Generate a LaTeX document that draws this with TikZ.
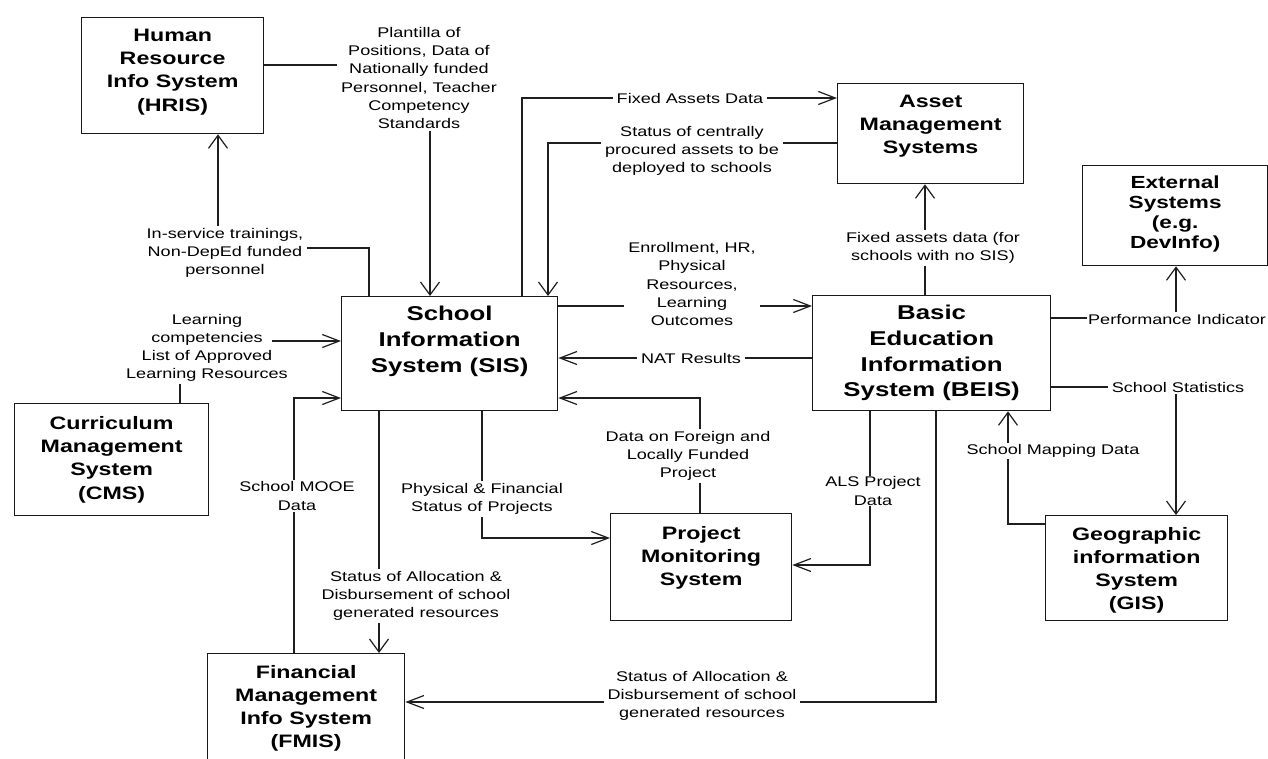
\documentclass[tikz,border=0pt]{standalone}
\usepackage{fontspec}
\setmainfont{Liberation Sans}[FakeStretch=1.29]
\usetikzlibrary{arrows.meta}
\newcommand\bxt[4]{\vbox to #2{\hsize=#1\relax\parindent=0pt\centering\rule{0pt}{#3}\ignorespaces#4\par\vfil}}
\begin{document}
\begin{tikzpicture}[x=1pt,y=-1pt,
  sysbox/.style={draw=black!90,line width=1.3pt,inner sep=0pt,anchor=north west,
     font=\bfseries\fontsize{18}{23.3}\selectfont},
  bigbox/.style={sysbox,font=\bfseries\fontsize{20}{26}\selectfont},
  lab/.style={fill=white,inner xsep=4pt,inner ysep=2pt,align=center,
     font=\fontsize{14}{18.2}\selectfont},
  conn/.style={draw=black!88,line width=1.2pt},
  av/.style={conn,-{Straight Barb[length=13pt,width=19pt]}},
  ah/.style={conn,-{Straight Barb[length=17pt,width=13pt]}}]
\fill[white] (0,0) rectangle (1268,758);
\useasboundingbox (0,0) rectangle (1268,758);
% boxes
\node[sysbox] (hris) at (81,17) {\bxt{182pt}{116pt}{23.5pt}{Human\\Resource\\Info System\\(HRIS)}};
\node[sysbox] (asset) at (837,83) {\bxt{186pt}{100pt}{23.5pt}{Asset\\Management\\Systems}};
\node[sysbox,font=\bfseries\fontsize{17.5}{20}\selectfont] (ext) at (1082,165) {\bxt{185pt}{100pt}{23.3pt}{External\\Systems\\(e.g.\\DevInfo)}};
\node[bigbox] (sis) at (341,296) {\bxt{216pt}{114pt}{24.2pt}{School\\Information\\System (SIS)}};
\node[bigbox,font=\bfseries\fontsize{20}{25.7}\selectfont] (beis) at (812,295) {\bxt{238pt}{115pt}{24.2pt}{Basic\\Education\\Information\\System (BEIS)}};
\node[sysbox,font=\bfseries\fontsize{18}{23}\selectfont] (pms) at (610,513) {\bxt{181pt}{107pt}{25.5pt}{Project\\Monitoring\\System}};
\node[sysbox,font=\bfseries\fontsize{18}{23}\selectfont] (gis) at (1045,515) {\bxt{182pt}{105pt}{24.5pt}{Geographic\\information\\System\\(GIS)}};
\node[sysbox] (cms) at (14,403) {\bxt{194pt}{112pt}{25.5pt}{Curriculum\\Management\\System\\(CMS)}};
\node[sysbox,font=\bfseries\fontsize{18}{23}\selectfont] (fmis) at (207,653) {\bxt{197pt}{115pt}{24.5pt}{Financial\\Management\\Info System\\(FMIS)}};
% connectors
\draw[av] (hris.east |- 0,65) -| (sis.north -| 430,0);
\draw[av] (sis.north -| 369,0) -- ++(0,-48) -| (hris.south -| 218,0);
\draw[ah] (sis.north -| 522,0) |- (asset.west |- 0,98);
\draw[av] (asset.west |- 0,143) -| (sis.north -| 548,0);
\draw[ah] (sis.east |- 0,306) -- (beis.west |- 0,306);
\draw[ah] (beis.west |- 0,358) -- (sis.east |- 0,358);
\draw[ah] (pms.north -| 700,0) |- (sis.east |- 0,398);
\draw[ah] (sis.south -| 482,0) |- (pms.west |- 0,538);
\draw[ah] (beis.south -| 870,0) |- (pms.east |- 0,565);
\draw[ah] (beis.south -| 936,0) |- (fmis.east |- 0,702);
\draw[av] (sis.south -| 379,0) -- (fmis.north -| 379,0);
\draw[ah] (fmis.north -| 294,0) |- (sis.west |- 0,398);
\draw[av] (beis.north -| 925,0) -- (asset.south -| 925,0);
\draw[av] (beis.east |- 0,318) -| (ext.south -| 1176,0);
\draw[av] (beis.east |- 0,387) -| (gis.north -| 1176,0);
\draw[av] (gis.west |- 0,524) -| (beis.south -| 1008,0);
% labels
\node[lab] (l1) at (419,78) {Plantilla of\\Positions, Data of\\Nationally funded\\Personnel, Teacher\\Competency\\Standards};
\node[lab] (l2) at (225,253) {In-service trainings,\\Non-DepEd funded\\personnel};
\node[lab] (l3) at (690,98) {Fixed Assets Data};
\node[lab] (l4) at (692,151) {Status of centrally\\procured assets to be\\deployed to schools};
\node[lab] (l5) at (692,284) {Enrollment, HR,\\Physical\\Resources,\\Learning\\Outcomes};
\node[lab] (l6) at (691,358) {NAT Results};
\node[lab] (l7) at (688,456) {Data on Foreign and\\Locally Funded\\Project};
\node[lab] (l8) at (482,499) {Physical \& Financial\\Status of Projects};
\node[lab,inner sep=1pt] (l9) at (873,491) {ALS Project\\Data};
\node[lab] (l10) at (702,696) {Status of Allocation \&\\Disbursement of school\\generated resources};
\node[lab] (l11) at (416,596) {Status of Allocation \&\\Disbursement of school\\generated resources};
\node[lab] (l12) at (297,496) {School MOOE\\Data};
\node[lab,fill=none] (l13) at (207,348) {Learning\\competencies\\List of Approved\\Learning Resources};
\node[lab] (l14) at (933,248) {Fixed assets data (for\\schools with no SIS)};
\node[lab,inner xsep=1pt] (l15) at (1177,319) {Performance Indicator};
\node[lab] (l16) at (1178,387) {School Statistics};
\node[lab,inner sep=1pt] (l17) at (1053,451) {School Mapping Data};
% curriculum connector, split by its label
\coordinate (c13) at (272,341);
\draw[conn] (cms.north -| 180,0) -- (l13.south -| 180,0);
\draw[ah] (c13) -- (sis.west |- c13);
\end{tikzpicture}
\end{document}
